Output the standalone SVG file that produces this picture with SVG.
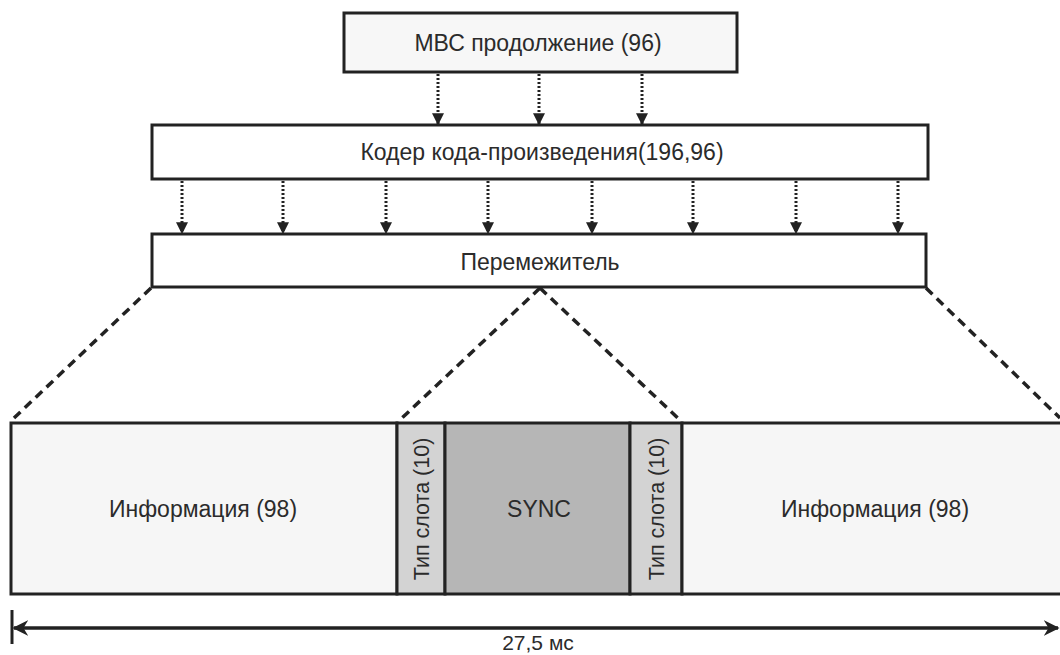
<svg xmlns="http://www.w3.org/2000/svg" width="1060" height="655" viewBox="0 0 1060 655">
<defs>
<marker id="ah" viewBox="0 0 10 10" refX="9" refY="5" markerWidth="4" markerHeight="4" orient="auto" markerUnits="strokeWidth">
<path d="M0,0 L10,5 L0,10 z" fill="#222"/>
</marker>
<marker id="dh" viewBox="0 0 10 10" refX="9" refY="5" markerWidth="4.5" markerHeight="4.5" orient="auto-start-reverse" markerUnits="strokeWidth">
<path d="M0,0 L10,5 L0,10 L3,5 z" fill="#222"/>
</marker>
</defs>
<style>
.box{fill:#fff;stroke:#222;stroke-width:3}
.top{fill:#f7f7f7;stroke:#222;stroke-width:3}
.info{fill:#f6f6f6;stroke:#222;stroke-width:3}
.slot{fill:#d3d3d3;stroke:#222;stroke-width:3}
.sync{fill:#b6b6b6;stroke:#222;stroke-width:3}
.t{font-family:"Liberation Sans",Arial,sans-serif;font-size:23px;fill:#2b2b2b;text-anchor:middle;dominant-baseline:central}
.v{font-size:21.5px}
.dot{stroke:#222;stroke-width:3;stroke-dasharray:2 2;fill:none;marker-end:url(#ah)}
.dash{stroke:#222;stroke-width:3.5;stroke-dasharray:9 6;fill:none}
</style>
<rect width="1060" height="655" fill="#fff"/>
<g id="connectors">
<line class="dot" x1="438" y1="74" x2="438" y2="124"/>
<line class="dot" x1="539" y1="74" x2="539" y2="124"/>
<line class="dot" x1="642" y1="74" x2="642" y2="124"/>
<line class="dot" x1="182" y1="181" x2="182" y2="233"/>
<line class="dot" x1="283" y1="181" x2="283" y2="233"/>
<line class="dot" x1="386" y1="181" x2="386" y2="233"/>
<line class="dot" x1="488" y1="181" x2="488" y2="233"/>
<line class="dot" x1="592" y1="181" x2="592" y2="233"/>
<line class="dot" x1="693" y1="181" x2="693" y2="233"/>
<line class="dot" x1="796" y1="181" x2="796" y2="233"/>
<line class="dot" x1="898" y1="181" x2="898" y2="233"/>
<line class="dash" x1="151" y1="288" x2="14" y2="418"/>
<line class="dash" x1="926" y1="288" x2="1060" y2="418"/>
<line class="dash" x1="540" y1="288" x2="402" y2="418"/>
<line class="dash" x1="540" y1="288" x2="680" y2="420"/>
</g>
<g id="mbc">
<rect class="top" x="344" y="13" width="393" height="59"/>
<text class="t" x="538" y="43">МВС продолжение (96)</text>
</g>
<g id="coder">
<rect class="box" x="152" y="125" width="776" height="54"/>
<text class="t" x="542" y="152">Кодер кода-произведения(196,96)</text>
</g>
<g id="interleaver">
<rect class="box" x="152" y="234" width="774" height="53"/>
<text class="t" x="540" y="262">Перемежитель</text>
</g>
<g id="info-left">
<rect class="info" x="11" y="423" width="386" height="171"/>
<text class="t" x="203" y="509">Информация (98)</text>
</g>
<g id="slot-left">
<rect class="slot" x="397" y="423" width="48" height="171"/>
<text class="t v" transform="translate(422,509) rotate(-90)">Тип слота (10)</text>
</g>
<g id="sync">
<rect class="sync" x="445" y="423" width="185" height="171"/>
<text class="t" x="539" y="509">SYNC</text>
</g>
<g id="slot-right">
<rect class="slot" x="630" y="423" width="52" height="171"/>
<text class="t v" transform="translate(657,509) rotate(-90)">Тип слота (10)</text>
</g>
<g id="info-right">
<rect class="info" x="682" y="423" width="390" height="171"/>
<text class="t" x="875" y="509">Информация (98)</text>
</g>
<g id="dimension">
<line x1="12" y1="610" x2="12" y2="644" stroke="#222" stroke-width="3"/>
<line x1="14" y1="628" x2="1058" y2="628" stroke="#222" stroke-width="3.5" marker-start="url(#dh)" marker-end="url(#dh)"/>
<text x="538" y="650" style="font-family:'Liberation Sans',Arial,sans-serif;font-size:21px;fill:#2b2b2b;text-anchor:middle">27,5 мс</text>
</g>
</svg>
